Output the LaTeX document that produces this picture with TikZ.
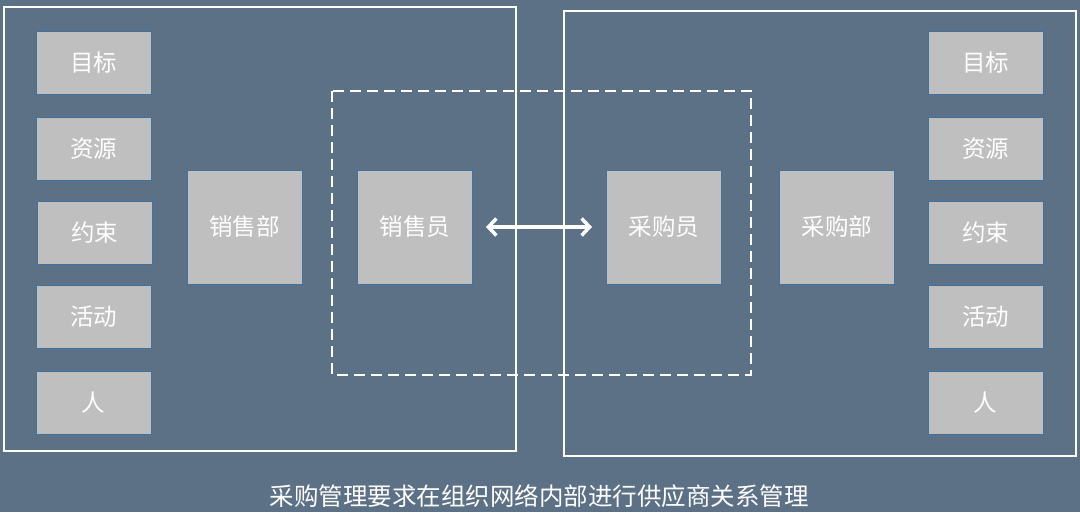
\documentclass[tikz,border=0pt]{standalone}
\usepackage{fontspec}
\setmainfont{Noto Sans CJK SC}
\usetikzlibrary{arrows.meta}
\definecolor{bg}{RGB}{92,112,134}
\definecolor{boxfill}{RGB}{191,191,191}
\definecolor{boxline}{RGB}{65,113,156}
\tikzset{
  base/.style={draw=boxline, line width=1pt, fill=boxfill, text=white, inner sep=0pt,
    font=\fontsize{23.5}{26}\selectfont},
  small/.style={base, minimum width=115pt, minimum height=63pt},
  big/.style={base, minimum width=115pt, minimum height=114pt},
  frame/.style={draw=white, line width=1.5pt},
  dashframe/.style={draw=white, line width=1.8pt, dash pattern=on 11pt off 6pt},
  link/.style={draw=white, line width=3.5pt, {Straight Barb[length=8pt,width=17pt,line width=3.5pt]}-{Straight Barb[length=8pt,width=17pt,line width=3.5pt]}}
}
\begin{document}
\begin{tikzpicture}[x=1pt,y=-1pt]
\fill[bg] (0,0) rectangle (1080,512);
\useasboundingbox (0,0) rectangle (1080,512);
% frames
\draw[frame] (4,7) rectangle (516,451);
\draw[frame] (564,11) rectangle (1076,456);
\draw[dashframe] (332,91) rectangle (751,375);
% left column
\node[small] (l1) at (93.5,62.5) {目标};
\node[small] (l2) at (93.5,148.5) {资源};
\node[small] (l3) at (94.5,233) {约束};
\node[small] (l4) at (93.5,316.5) {活动};
\node[small] (l5) at (93.5,402.5) {人};
% right column
\node[small] (r1) at (985.5,62.5) {目标};
\node[small] (r2) at (985.5,148.5) {资源};
\node[small] (r3) at (985.5,233) {约束};
\node[small] (r4) at (985.5,316.5) {活动};
\node[small] (r5) at (985.5,402.5) {人};
% middle
\node[big] (xsb) at (244.5,227) {销售部};
\node[big] (xsy) at (415,227) {销售员};
\node[big] (cgy) at (664,227) {采购员};
\node[big] (cgb) at (837,227) {采购部};
\draw[link, shorten <=13pt, shorten >=14pt] (xsy.east) -- (cgy.west);
% caption
\node[text=white, font=\fontsize{24.5}{28}\selectfont, inner sep=0pt] (cap) at (539,496) {采购管理要求在组织网络内部进行供应商关系管理};
\end{tikzpicture}
\end{document}
